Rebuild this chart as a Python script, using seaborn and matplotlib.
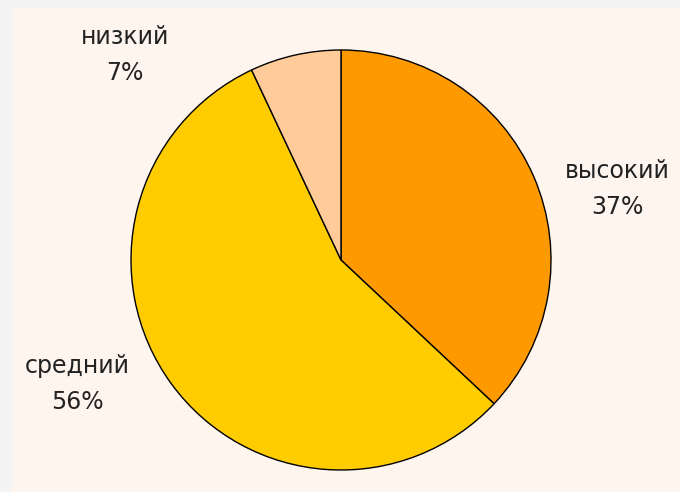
import matplotlib
matplotlib.use('Agg')
import matplotlib.pyplot as plt
import seaborn as sns
from matplotlib.patches import Rectangle

labels = ['высокий', 'средний', 'низкий']
shares = [37, 56, 7]
colors = ['#FF9900', '#FFCC00', '#FFCC99']

sns.set_theme(style='white')
plt.rcParams['font.family'] = ['DejaVu Sans']

fig = plt.figure(figsize=(6.8, 4.92), dpi=100, facecolor='#F4F4F4')
# светлая подложка внутри серой рамки
fig.patches.append(Rectangle((12 / 680, 0), 1, 1 - 9 / 492, transform=fig.transFigure,
                             facecolor='#FDF5EE', edgecolor='none', zorder=-1))

# круг: центр (341, 260) px, радиус 210 px
ax = fig.add_axes([131 / 680, 22 / 492, 420 / 680, 420 / 492])
ax.set_facecolor('none')
ax.pie(shares, colors=colors, startangle=90, counterclock=False, radius=1,
       wedgeprops={'edgecolor': 'black', 'linewidth': 1})
ax.set_xlim(-1, 1)
ax.set_ylim(-1, 1)
ax.axis('off')

# подписи в пикселях фигуры
label_pos = [(617, 189), (77, 384), (125, 55)]
for lab, val, (px, py) in zip(labels, shares, label_pos):
    fig.text(px / 680, 1 - py / 492, '{}\n{}%'.format(lab, val), ha='center', va='center',
             fontsize=17, color='#222222', linespacing=1.6)

fig.savefig('out.png', dpi=100, facecolor=fig.get_facecolor())
